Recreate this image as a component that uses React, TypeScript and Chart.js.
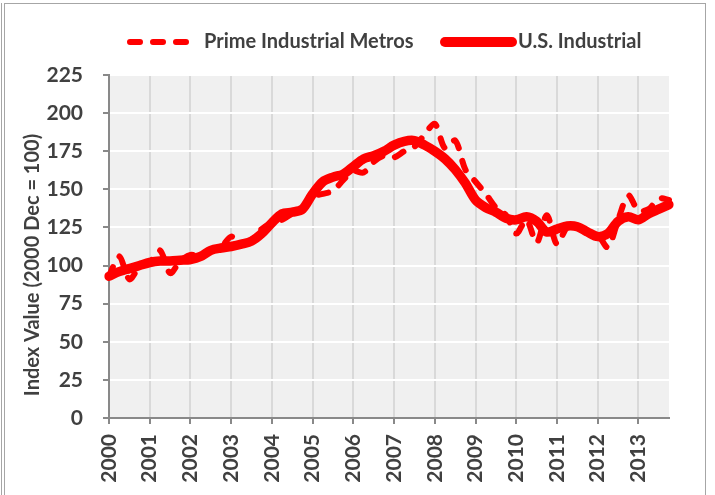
import React, { useEffect, useRef } from "react";
import { Chart, registerables } from "chart.js";

Chart.register(...registerables);

const years = ["2000","2001","2002","2003","2004","2005","2006","2007","2008","2009","2010","2011","2012","2013"];
const quarterNames = ["Q1", "Q2", "Q3", "Q4"];
const quarters = years.flatMap((y) => quarterNames.map((q) => `${y} ${q}`));

const primeMetros = [
  93, 106, 91, 99,
  102, 110, 95, 103,
  107, 106, 110, 112,
  119, 115, 117, 124,
  128, 130, 134, 136,
  145, 147, 149, 156,
  162, 161, 168, 172,
  171, 175, 178, 186,
  193, 177, 182, 163,
  155, 147, 138, 133,
  121, 130, 115, 133,
  114, 125, 125, 121,
  120, 112, 130, 146,
  136, 137, 144, 143,
];

const usIndustrial = [
  93, 96, 98, 100,
  102, 103, 103, 103.5,
  104, 106, 110, 111.5,
  112.5, 114, 116, 121,
  128, 134, 135, 137,
  147, 155, 158, 160,
  165, 170, 172, 175,
  179, 181.5, 182, 179,
  175, 170, 163, 154,
  143, 138, 135, 131,
  130, 132, 129, 122,
  124, 126, 125.5, 122,
  119, 121, 129, 132,
  130, 134, 137, 140,
];

const seriesNames = ["Prime Industrial Metros", "U.S. Industrial"];
const yTitle = "Index Value (2000 Dec = 100)";

const FONT = "Lato, 'Open Sans', 'DejaVu Sans', sans-serif";
const TEXT = "#404040";
const RED = "#FF0000";

const bgPlugin = {
  id: "plotBg",
  beforeDraw(chart: any) {
    const { ctx, chartArea } = chart;
    ctx.save();
    ctx.fillStyle = "#F0F0F0";
    ctx.fillRect(chartArea.left, chartArea.top, chartArea.right - chartArea.left, chartArea.bottom - chartArea.top);
    ctx.restore();
  },
};

const decorPlugin = {
  id: "decor",
  afterDraw(chart: any) {
    const { ctx } = chart;
    ctx.save();
    // legend
    const ly = 42;
    ctx.strokeStyle = RED;
    ctx.lineCap = "round";
    ctx.lineWidth = 6;
    ctx.setLineDash([10, 13]);
    ctx.beginPath();
    ctx.moveTo(130, ly);
    ctx.lineTo(187, ly);
    ctx.stroke();
    ctx.setLineDash([]);
    ctx.lineWidth = 10;
    ctx.beginPath();
    ctx.moveTo(445, ly);
    ctx.lineTo(512, ly);
    ctx.stroke();
    ctx.fillStyle = TEXT;
    ctx.font = `bold 20px ${FONT}`;
    ctx.textBaseline = "middle";
    ctx.textAlign = "left";
    ctx.fillText(seriesNames[0], 204, ly);
    ctx.fillText(seriesNames[1], 518, ly);
    // y title
    ctx.translate(33, 265);
    ctx.rotate(-Math.PI / 2);
    ctx.textAlign = "center";
    ctx.fillText(yTitle, 0, 0);
    ctx.restore();
  },
};

export default function App() {
  const ref = useRef<HTMLCanvasElement>(null);
  useEffect(() => {
    if (!ref.current) return;
    const chart = new Chart(ref.current, {
      type: "line",
      data: {
        labels: quarters,
        datasets: [
          {
            label: seriesNames[0],
            data: primeMetros,
            borderColor: RED,
            backgroundColor: RED,
            borderWidth: 6,
            borderDash: [10, 13],
            borderCapStyle: "round",
            borderJoinStyle: "round",
            pointRadius: 0,
            tension: 0.3,
          },
          {
            label: seriesNames[1],
            data: usIndustrial,
            borderColor: RED,
            backgroundColor: RED,
            borderWidth: 9.5,
            borderCapStyle: "round",
            borderJoinStyle: "round",
            pointRadius: 0,
            tension: 0.3,
          },
        ],
      },
      options: {
        responsive: false,
        animation: false,
        devicePixelRatio: 1,
        layout: { padding: { left: 0, right: 46, top: 75, bottom: 0 } },
        plugins: { legend: { display: false }, tooltip: { enabled: false } },
        scales: {
          x: {
            type: "category",
            offset: false,
            afterFit: (s: any) => { s.height = 77; },
            grid: {
              display: true,
              drawOnChartArea: true,
              color: (c: any) => (c.index % 4 === 0 ? "#D9D9D9" : "rgba(0,0,0,0)"),
              tickColor: (c: any) => (c.index % 4 === 0 ? "#898989" : "rgba(0,0,0,0)"),
              lineWidth: 2,
              tickLength: 6,
            },
            border: { display: true, color: "#898989", width: 2 },
            ticks: {
              autoSkip: false,
              maxRotation: 90,
              minRotation: 90,
              padding: 10,
              color: TEXT,
              font: { family: FONT, size: 21, weight: "bold" },
              callback: (_v: any, i: number) => (i % 4 === 0 ? years[i / 4] : ""),
            },
          },
          y: {
            min: 0,
            max: 225,
            afterFit: (s: any) => { s.width = 109; },
            grid: { color: "#FFFFFF", tickColor: "#898989", lineWidth: 2, tickLength: 6 },
            border: { display: true, color: "#898989", width: 2 },
            ticks: {
              stepSize: 25,
              padding: 20,
              color: TEXT,
              font: { family: FONT, size: 21, weight: "bold" },
            },
          },
        },
      },
      plugins: [bgPlugin, decorPlugin],
    });
    return () => chart.destroy();
  }, []);
  return (
    <div style={{ position: "fixed", left: 0, top: 0, width: 715, height: 495, background: "#fff", overflow: "hidden" }}>
      <div style={{ position: "absolute", left: 1, top: 3, width: 0, height: 600, borderLeft: "1px solid #A6A6A6" }} />
      <div style={{ position: "absolute", left: 4, top: 3, width: 700, height: 600, border: "1px solid #A6A6A6" }} />
      <canvas ref={ref} width={715} height={495} style={{ position: "absolute", left: 0, top: 0, display: "block" }} />
    </div>
  );
}
